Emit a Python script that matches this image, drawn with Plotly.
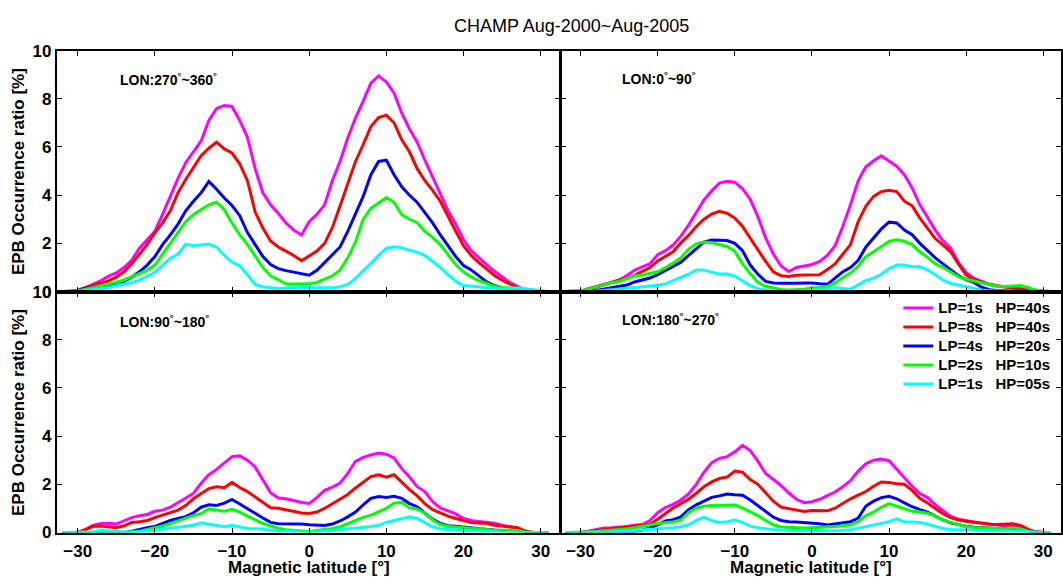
import plotly.graph_objects as go

W, H = 1063, 588

# Magnetic latitude grid (degrees), -32 .. 31
LAT = list(range(-32, 32))

SERIES_NAMES = ["LP=1s\u00a0\u00a0\u00a0HP=40s", "LP=8s\u00a0\u00a0\u00a0HP=40s",
                "LP=4s\u00a0\u00a0\u00a0HP=20s", "LP=2s\u00a0\u00a0\u00a0HP=10s",
                "LP=1s\u00a0\u00a0\u00a0HP=05s"]
SERIES_COLORS = ["#FF00FF", "#FF0000", "#0000FF", "#00FF00", "#00FFFF"]

PANEL_LABELS = ["LON:270<sup>°</sup>~360<sup>°</sup>", "LON:0<sup>°</sup>~90<sup>°</sup>",
                "LON:90<sup>°</sup>~180<sup>°</sup>", "LON:180<sup>°</sup>~270<sup>°</sup>"]

# ---- Panel 1: LON 270~360 (top left)
TL_MAGENTA = [0, 0, 0.02, 0.15, 0.3, 0.45, 0.64, 0.77, 1.0, 1.3,
              1.8, 2.15, 2.5, 3.2, 3.95, 4.7, 5.35, 5.8, 6.25, 7.1,
              7.6, 7.72, 7.68, 7.1, 6.4, 5.1, 4.1, 3.6, 3.25, 2.85,
              2.55, 2.35, 2.9, 3.2, 3.6, 4.6, 5.4, 6.37, 7.2, 7.9,
              8.65, 8.95, 8.7, 8.24, 7.4, 6.75, 6.2, 5.45, 4.75, 4.05,
              3.35, 2.8, 2.15, 1.7, 1.4, 1.12, 0.85, 0.6, 0.38, 0.22,
              0.05, 0, 0, 0]
TL_RED = [0, 0, 0.05, 0.17, 0.25, 0.35, 0.44, 0.6, 0.82, 1.15,
          1.55, 1.95, 2.44, 2.85, 3.35, 4.1, 4.65, 5.15, 5.64, 5.95,
          6.2, 5.92, 5.75, 5.3, 4.6, 3.3, 2.64, 2.1, 1.85, 1.68,
          1.5, 1.28, 1.47, 1.68, 2.0, 2.65, 3.55, 4.5, 5.4, 6.1,
          6.85, 7.22, 7.32, 7.0, 6.3, 5.8, 5.1, 4.6, 4.2, 3.75,
          3.1, 2.5, 1.9, 1.5, 1.2, 0.92, 0.68, 0.47, 0.3, 0.16,
          0.05, 0, 0, 0]
TL_BLUE = [0, 0, 0.05, 0.13, 0.17, 0.2, 0.24, 0.32, 0.42, 0.6,
           0.82, 1.1, 1.45, 1.95, 2.35, 2.8, 3.35, 3.75, 4.1, 4.57,
           4.25, 3.88, 3.57, 3.15, 2.45, 1.95, 1.45, 1.12, 0.95, 0.87,
           0.8, 0.75, 0.68, 0.88, 1.2, 1.5, 1.85, 2.5, 3.2, 3.95,
           4.85, 5.4, 5.45, 4.85, 4.35, 4.0, 3.7, 3.28, 2.85, 2.35,
           1.9, 1.45, 1.08, 0.9, 0.65, 0.4, 0.25, 0.15, 0.1, 0.07,
           0.02, 0, 0, 0]
TL_GREEN = [0, 0, 0.03, 0.1, 0.17, 0.24, 0.3, 0.38, 0.48, 0.62,
            0.74, 0.88, 1.1, 1.55, 2.0, 2.5, 2.9, 3.2, 3.4, 3.6,
            3.72, 3.4, 2.85, 2.35, 1.95, 1.5, 1.0, 0.65, 0.48, 0.32,
            0.31, 0.33, 0.32, 0.38, 0.5, 0.65, 0.9, 1.4, 2.05, 3.0,
            3.45, 3.68, 3.9, 3.7, 3.2, 3.0, 2.86, 2.5, 2.25, 1.95,
            1.52, 1.12, 0.82, 0.6, 0.45, 0.32, 0.22, 0.17, 0.17, 0.14,
            0.06, 0, 0, 0]
TL_CYAN = [0, 0, 0, 0.04, 0.08, 0.13, 0.17, 0.24, 0.3, 0.37,
           0.47, 0.62, 0.8, 1.1, 1.38, 1.55, 1.97, 1.9, 1.95, 1.97,
           1.85, 1.5, 1.22, 1.07, 0.7, 0.3, 0.2, 0.15, 0.13, 0.15,
           0.17, 0.17, 0.16, 0.15, 0.15, 0.16, 0.2, 0.3, 0.55, 0.85,
           1.17, 1.5, 1.8, 1.86, 1.82, 1.72, 1.64, 1.5, 1.25, 1.0,
           0.7, 0.42, 0.25, 0.22, 0.19, 0.17, 0.14, 0.11, 0.13, 0.15,
           0.12, 0.07, 0.02, 0]

# ---- Panel 2: LON 0~90 (top right)
TR_MAGENTA = [0, 0, 0, 0.07, 0.17, 0.27, 0.37, 0.48, 0.67, 0.88,
              1.03, 1.16, 1.53, 1.7, 1.93, 2.3, 2.76, 3.26, 3.8, 4.18,
              4.5, 4.58, 4.54, 4.27, 3.83, 3.1, 2.23, 1.56, 1.06, 0.83,
              1.0, 1.06, 1.12, 1.25, 1.5, 1.9, 2.7, 3.6, 4.6, 5.18,
              5.43, 5.63, 5.42, 5.2, 4.85, 4.3, 3.6, 3.07, 2.55, 2.1,
              1.8, 1.2, 0.78, 0.56, 0.42, 0.3, 0.23, 0.19, 0.16, 0.12,
              0.09, 0.05, 0.02, 0]
TR_RED = [0, 0, 0.02, 0.12, 0.2, 0.28, 0.37, 0.45, 0.55, 0.67,
          0.84, 1.0, 1.27, 1.45, 1.65, 2.02, 2.33, 2.7, 3.0, 3.22,
          3.33, 3.25, 3.05, 2.7, 2.2, 1.73, 1.25, 0.82, 0.66, 0.63,
          0.68, 0.69, 0.69, 0.7, 0.92, 1.15, 1.55, 1.95, 2.9, 3.55,
          3.95, 4.15, 4.2, 4.15, 3.75, 3.56, 3.05, 2.6, 2.2, 1.93,
          1.65, 1.15, 0.68, 0.5, 0.4, 0.3, 0.24, 0.19, 0.15, 0.12,
          0.07, 0.02, 0, 0]
TR_BLUE = [0, 0, 0, 0.02, 0.05, 0.1, 0.16, 0.2, 0.27, 0.4,
           0.48, 0.56, 0.7, 0.87, 1.02, 1.22, 1.5, 1.78, 2.05, 2.14,
           2.14, 2.12, 2.0, 1.7, 1.1, 0.72, 0.42, 0.36, 0.34, 0.33,
           0.35, 0.36, 0.36, 0.32, 0.3, 0.56, 0.82, 1.0, 1.3, 1.85,
           2.22, 2.6, 2.88, 2.85, 2.55, 2.36, 2.0, 1.68, 1.4, 1.15,
           0.92, 0.66, 0.5, 0.38, 0.18, 0.08, 0.04, 0.02, 0, 0,
           0, 0, 0, 0]
TR_GREEN = [0, 0, 0.03, 0.1, 0.2, 0.3, 0.37, 0.42, 0.55, 0.66,
            0.69, 0.74, 0.82, 1.0, 1.18, 1.4, 1.75, 1.98, 2.06, 2.03,
            1.95, 1.87, 1.67, 1.15, 0.75, 0.38, 0.22, 0.15, 0.09, 0.07,
            0.07, 0.1, 0.16, 0.16, 0.22, 0.36, 0.57, 0.77, 1.05, 1.45,
            1.65, 1.87, 2.08, 2.15, 2.09, 1.95, 1.65, 1.42, 1.16, 1.0,
            0.8, 0.62, 0.51, 0.44, 0.36, 0.28, 0.22, 0.21, 0.24, 0.25,
            0.17, 0.07, 0.02, 0]
TR_CYAN = [0, 0, 0, 0, 0.02, 0.04, 0.07, 0.1, 0.13, 0.16,
           0.2, 0.23, 0.26, 0.32, 0.45, 0.6, 0.72, 0.9, 0.9, 0.8,
           0.73, 0.73, 0.64, 0.45, 0.25, 0.12, 0.05, 0.01, 0, 0,
           0.01, 0.02, 0.04, 0.1, 0.13, 0.16, 0.12, 0.1, 0.28, 0.46,
           0.56, 0.72, 0.95, 1.1, 1.1, 1.03, 1.03, 0.9, 0.7, 0.48,
           0.34, 0.27, 0.22, 0.14, 0.07, 0.03, 0, 0, 0, 0,
           0, 0, 0, 0]

# ---- Panel 3: LON 90~180 (bottom left)
BL_MAGENTA = [0, 0, 0, 0.12, 0.3, 0.37, 0.38, 0.35, 0.5, 0.62,
              0.7, 0.75, 0.88, 0.93, 1.05, 1.25, 1.42, 1.62, 2.05, 2.4,
              2.62, 2.9, 3.15, 3.18, 3.0, 2.72, 2.2, 1.65, 1.43, 1.4,
              1.33, 1.25, 1.21, 1.45, 1.75, 1.88, 2.05, 2.45, 2.95, 3.12,
              3.22, 3.3, 3.25, 3.1, 2.65, 2.3, 1.9, 1.7, 1.28, 1.02,
              0.9, 0.77, 0.58, 0.5, 0.46, 0.43, 0.39, 0.3, 0.24, 0.19,
              0.06, 0, 0, 0]
BL_RED = [0, 0, 0, 0.12, 0.26, 0.27, 0.23, 0.2, 0.28, 0.42,
          0.45, 0.5, 0.62, 0.72, 0.82, 0.93, 1.12, 1.4, 1.62, 1.82,
          1.9, 1.86, 2.08, 1.87, 1.7, 1.48, 1.28, 1.03, 1.01, 0.95,
          0.86, 0.81, 0.79, 0.85, 1.0, 1.2, 1.37, 1.58, 1.85, 2.08,
          2.32, 2.4, 2.3, 2.4, 2.08, 1.78, 1.52, 1.2, 0.95, 0.8,
          0.68, 0.58, 0.48, 0.41, 0.39, 0.38, 0.3, 0.27, 0.25, 0.2,
          0.06, 0, 0, 0]
BL_BLUE = [0, 0, 0, 0, 0, 0, 0, 0, 0, 0.05,
           0.13, 0.2, 0.25, 0.38, 0.5, 0.58, 0.66, 0.82, 1.05, 1.15,
           1.12, 1.22, 1.37, 1.18, 1.0, 0.8, 0.6, 0.42, 0.36, 0.36,
           0.38, 0.35, 0.32, 0.32, 0.29, 0.35, 0.48, 0.65, 0.85, 1.15,
           1.42, 1.49, 1.45, 1.5, 1.42, 1.2, 1.07, 0.8, 0.55, 0.38,
           0.28, 0.26, 0.24, 0.2, 0.16, 0.12, 0.1, 0.08, 0.08, 0.06,
           0.01, 0, 0, 0]
BL_GREEN = [0, 0, 0, 0, 0, 0, 0, 0, 0, 0.02,
            0.05, 0.12, 0.19, 0.27, 0.37, 0.5, 0.6, 0.7, 0.78, 0.98,
            0.92, 0.88, 0.96, 0.85, 0.68, 0.52, 0.38, 0.28, 0.18, 0.12,
            0.09, 0.06, 0.04, 0.08, 0.12, 0.17, 0.24, 0.38, 0.52, 0.63,
            0.72, 0.85, 1.0, 1.22, 1.25, 1.02, 0.97, 0.8, 0.52, 0.33,
            0.26, 0.23, 0.2, 0.17, 0.13, 0.11, 0.09, 0.08, 0.09, 0.08,
            0.02, 0, 0, 0]
BL_CYAN = [0, 0, 0, 0, 0.02, 0.08, 0.08, 0.05, 0.02, 0.01,
           0.02, 0.05, 0.09, 0.13, 0.17, 0.2, 0.25, 0.3, 0.4, 0.35,
           0.27, 0.24, 0.3, 0.22, 0.17, 0.16, 0.15, 0.09, 0.08, 0.06,
           0.03, 0.01, 0, 0.02, 0.05, 0.08, 0.11, 0.15, 0.18, 0.22,
           0.25, 0.3, 0.42, 0.5, 0.58, 0.65, 0.58, 0.4, 0.24, 0.15,
           0.13, 0.1, 0.07, 0.05, 0.03, 0.02, 0, 0, 0, 0,
           0, 0, 0, 0]

# ---- Panel 4: LON 180~270 (bottom right)
BR_MAGENTA = [0, 0, 0, 0.05, 0.12, 0.19, 0.2, 0.22, 0.25, 0.3,
              0.33, 0.5, 0.82, 1.04, 1.17, 1.35, 1.6, 2.0, 2.5, 2.9,
              3.08, 3.15, 3.35, 3.62, 3.4, 2.95, 2.45, 2.2, 1.95, 1.65,
              1.38, 1.24, 1.28, 1.38, 1.52, 1.68, 1.9, 2.15, 2.55, 2.85,
              3.0, 3.05, 2.98, 2.63, 2.3, 1.92, 1.62, 1.45, 1.15, 0.9,
              0.67, 0.55, 0.48, 0.44, 0.4, 0.36, 0.31, 0.27, 0.27, 0.22,
              0.1, 0.03, 0, 0]
BR_RED = [0, 0, 0, 0.04, 0.08, 0.12, 0.16, 0.18, 0.22, 0.28,
          0.32, 0.34, 0.55, 0.8, 1.02, 1.2, 1.38, 1.63, 1.9, 2.1,
          2.24, 2.3, 2.55, 2.5, 2.2, 2.0, 1.65, 1.3, 1.05, 0.98,
          0.93, 0.87, 0.91, 0.9, 0.9, 1.01, 1.22, 1.4, 1.55, 1.7,
          1.92, 2.1, 2.08, 2.02, 2.0, 1.75, 1.42, 1.23, 1.0, 0.78,
          0.62, 0.52, 0.47, 0.42, 0.37, 0.34, 0.33, 0.36, 0.36, 0.3,
          0.14, 0.02, 0, 0]
BR_BLUE = [0, 0, 0, 0, 0, 0, 0, 0, 0, 0.04,
           0.1, 0.2, 0.32, 0.48, 0.53, 0.65, 0.95, 1.15, 1.32, 1.46,
           1.52, 1.6, 1.57, 1.55, 1.35, 1.1, 0.86, 0.64, 0.5, 0.45,
           0.44, 0.42, 0.41, 0.36, 0.31, 0.35, 0.4, 0.45, 0.6, 1.1,
           1.3, 1.45, 1.5, 1.4, 1.23, 1.07, 0.95, 0.85, 0.68, 0.52,
           0.4, 0.32, 0.26, 0.22, 0.2, 0.18, 0.16, 0.15, 0.13, 0.12,
           0.06, 0, 0, 0]
BR_GREEN = [0, 0, 0, 0.02, 0.04, 0.06, 0.08, 0.11, 0.15, 0.2,
            0.26, 0.33, 0.37, 0.41, 0.44, 0.52, 0.82, 1.02, 1.09, 1.12,
            1.12, 1.13, 1.14, 1.02, 0.86, 0.7, 0.5, 0.32, 0.23, 0.21,
            0.2, 0.19, 0.2, 0.21, 0.23, 0.25, 0.28, 0.32, 0.45, 0.7,
            0.85, 1.05, 1.2, 1.1, 1.0, 0.88, 0.85, 0.8, 0.68, 0.52,
            0.42, 0.32, 0.25, 0.21, 0.2, 0.18, 0.15, 0.16, 0.19, 0.16,
            0.06, 0, 0, 0]
BR_CYAN = [0, 0, 0, 0, 0, 0, 0.02, 0.04, 0.06, 0.07,
           0.09, 0.12, 0.15, 0.17, 0.2, 0.24, 0.32, 0.5, 0.64, 0.5,
           0.42, 0.45, 0.52, 0.42, 0.27, 0.2, 0.15, 0.12, 0.1, 0.08,
           0.06, 0.05, 0.05, 0.05, 0.05, 0.06, 0.08, 0.11, 0.18, 0.25,
           0.32, 0.38, 0.45, 0.57, 0.45, 0.44, 0.42, 0.35, 0.25, 0.17,
           0.13, 0.12, 0.11, 0.11, 0.11, 0.1, 0.1, 0.09, 0.08, 0.06,
           0.03, 0, 0, 0]

PANELS = [
    [TL_MAGENTA, TL_RED, TL_BLUE, TL_GREEN, TL_CYAN],
    [TR_MAGENTA, TR_RED, TR_BLUE, TR_GREEN, TR_CYAN],
    [BL_MAGENTA, BL_RED, BL_BLUE, BL_GREEN, BL_CYAN],
    [BR_MAGENTA, BR_RED, BR_BLUE, BR_GREEN, BR_CYAN],
]
for p in PANELS:
    for s in p:
        assert len(s) == len(LAT), len(s)


def px(x):
    return x / W


def py(y):
    return 1 - y / H


FONT = "Liberation Sans, Arial, Helvetica, sans-serif"

fig = go.Figure()
axis_ids = ["", "2", "3", "4"]
for i, series in enumerate(PANELS):
    ax = axis_ids[i]
    for j, vals in enumerate(series):
        fig.add_trace(go.Scatter(
            x=LAT, y=vals, mode="lines",
            line=dict(color=SERIES_COLORS[j], width=3),
            name='<span style="font-size:15px">' + SERIES_NAMES[j] + '</span>',
            showlegend=(i == 3),
            xaxis="x" + ax, yaxis="y" + ax,
        ))

x_left = [px(57), px(561)]
x_right = [px(562), 1.0]
y_top = [py(292), py(43)]
y_bot = [py(541), py(292)]

tickfont = dict(family=FONT, size=17, color="black", weight="bold")
common_x = dict(showgrid=False, zeroline=False, showline=True, linecolor="black",
                linewidth=2, mirror="ticks", ticks="inside", ticklen=5, tickwidth=1,
                tickcolor="black", tickvals=[-30, -20, -10, 0, 10, 20, 30],
                tickfont=tickfont, ticklabelstandoff=2)
common_y = dict(showgrid=False, zeroline=False, showline=True, linecolor="black",
                linewidth=2, mirror="ticks", ticks="inside", ticklen=5, tickwidth=1,
                tickcolor="black", range=[0, 10], tickvals=[0, 2, 4, 6, 8, 10],
                tickfont=tickfont)

layout = dict(
    width=W, height=H, autosize=False,
    margin=dict(l=0, r=0, t=0, b=0),
    paper_bgcolor="white", plot_bgcolor="white",
    showlegend=True,
    legend=dict(x=px(900), y=py(294), xanchor="left", yanchor="top",
                bgcolor="rgba(0,0,0,0)", borderwidth=0,
                font=dict(family=FONT, size=12, color="black", weight="bold"),
                traceorder="normal", itemwidth=30, tracegroupgap=0),
    xaxis=dict(common_x, domain=x_left, range=[-32.7, 32.5], anchor="y", showticklabels=False),
    yaxis=dict(common_y, domain=y_top, anchor="x"),
    xaxis2=dict(common_x, domain=x_right, range=[-32.55, 32.3], anchor="y2", showticklabels=False),
    yaxis2=dict(common_y, domain=y_top, anchor="x2", showticklabels=False),
    xaxis3=dict(common_x, domain=x_left, range=[-32.7, 32.5], anchor="y3"),
    yaxis3=dict(common_y, domain=y_bot, anchor="x3"),
    xaxis4=dict(common_x, domain=x_right, range=[-32.55, 32.3], anchor="y4"),
    yaxis4=dict(common_y, domain=y_bot, anchor="x4", showticklabels=False),
)
fig.update_layout(**layout)

ann = []
ann.append(dict(text="CHAMP Aug-2000~Aug-2005", x=px(573), y=py(18), xref="paper", yref="paper",
                showarrow=False, xanchor="center", yanchor="middle",
                font=dict(family=FONT, size=18, color="black")))
for yc in (167.5, 416.5):
    ann.append(dict(text="EPB Occurrence ratio [%]", x=px(18), y=py(yc), xref="paper", yref="paper",
                    showarrow=False, textangle=-90, xanchor="center", yanchor="middle",
                    font=dict(family=FONT, size=17, color="black", weight="bold")))
for xc in (310, 813):
    ann.append(dict(text="Magnetic latitude [°]", x=px(xc), y=py(588), xref="paper", yref="paper",
                    showarrow=False, xanchor="center", yanchor="bottom", borderpad=0,
                    font=dict(family=FONT, size=17, color="black", weight="bold")))
label_pos = [(118, 72), (621, 71), (118, 322), (621, 320)]
for (lx, ly), txt in zip(label_pos, PANEL_LABELS):
    ann.append(dict(text=txt, x=px(lx), y=py(ly), xref="paper", yref="paper",
                    showarrow=False, xanchor="left", yanchor="middle",
                    font=dict(family=FONT, size=14, color="black", weight="bold")))
fig.update_layout(annotations=ann)

fig.write_html("out.html")
